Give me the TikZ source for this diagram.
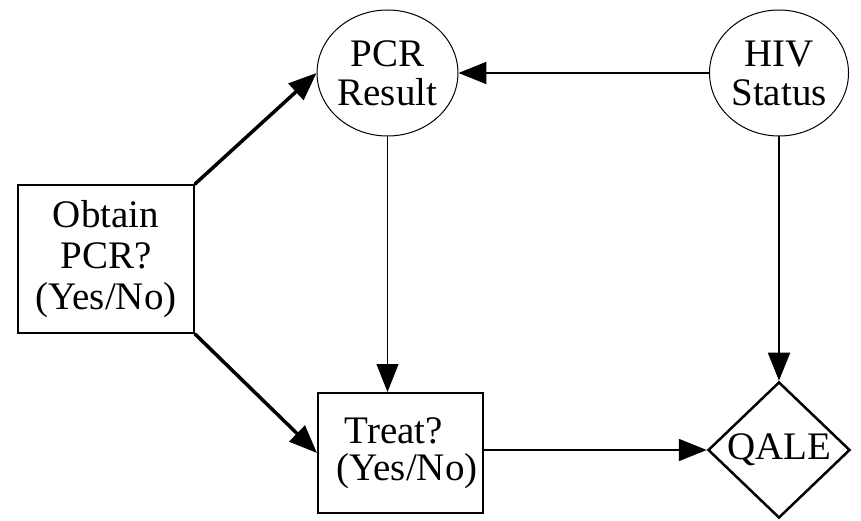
\documentclass[tikz,border=0pt]{standalone}
\usepackage{fontspec}
\setmainfont{Liberation Serif}
\usetikzlibrary{shapes.geometric,arrows.meta}
\begin{document}
\begin{tikzpicture}[x=1pt,y=-1pt,
  lbl/.style={font=\fontsize{39}{41}\selectfont, align=center, inner sep=0pt},
  decision/.style={lbl, draw, rectangle},
  chance/.style={lbl, draw, ellipse, line width=1pt,
                 minimum width=139pt, minimum height=126pt,
                 font=\fontsize{39}{39}\selectfont},
  value/.style={lbl, draw, diamond, line width=2.5pt,
                minimum width=142pt, minimum height=135pt},
  arr/.style={-{Triangle[length=28pt,width=22pt]}},
]
\useasboundingbox (0,0) rectangle (861,521);

% decision nodes
\node[decision, line width=1.3pt, minimum width=176pt, minimum height=148pt]
  (obtain) at (106,259) {Obtain\\PCR?\\(Yes/No)};
\node[decision, line width=2pt, minimum width=165pt, minimum height=120pt,
      font=\fontsize{39}{37}\selectfont]
  (treat) at (400.5,453) {Treat?\rule{13pt}{0pt}\\\rule{13pt}{0pt}(Yes/No)};

% chance nodes
\node[chance] (pcr) at (387.5,73) {PCR\\Result};
\node[chance] (hiv) at (779,73) {HIV\\Status};

% value node
\node[value] (qale) at (779,450) {QALE};

% influence arcs
\draw[arr, line width=3.5pt] (obtain.north east) -- (pcr.west);
\draw[arr, line width=3.5pt] (obtain.south east) -- (treat.west);
\draw[arr, line width=2pt] (hiv.west) -- (pcr.east);
\draw[arr, line width=1pt] (pcr.south) -- (pcr.south |- treat.north);
\draw[arr, line width=2pt] (hiv.south) -- (qale.north);
\draw[arr, line width=2pt] (treat.east |- qale.west) -- (qale.west);
\end{tikzpicture}
\end{document}
